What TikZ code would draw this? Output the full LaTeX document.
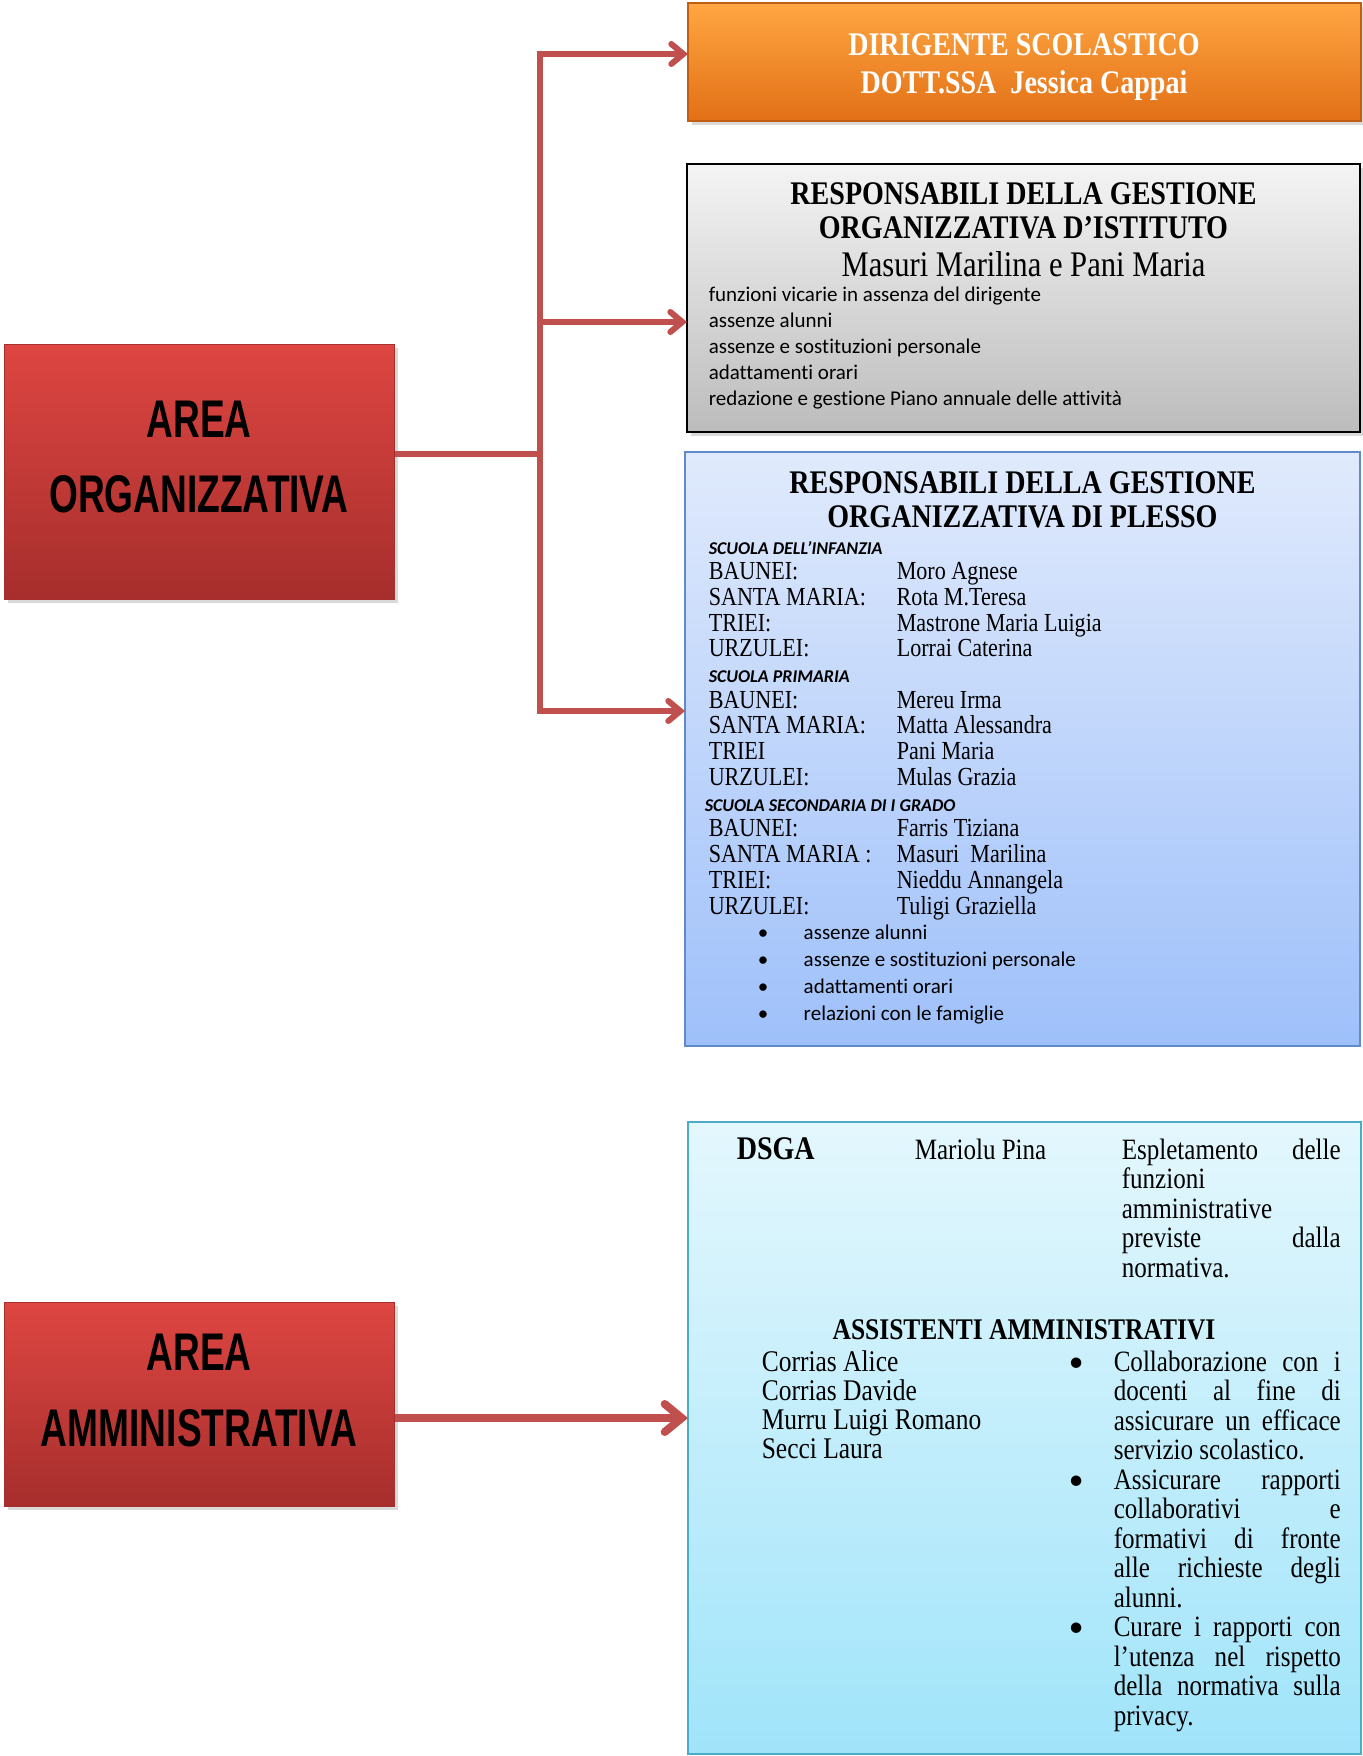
\documentclass[tikz,border=0pt]{standalone}
\usepackage{fontspec}
\setmainfont{Liberation Serif}[FakeStretch=0.85]
\newfontfamily\calibri{Carlito}[Ligatures=NoCommon]
\newfontfamily\areafont{Liberation Sans}[FakeStretch=0.7]
\usetikzlibrary{arrows.meta,shadows}

\definecolor{linkred}{RGB}{192,80,77}
\definecolor{orangetop}{RGB}{255,166,66}
\definecolor{orangebot}{RGB}{226,112,22}
\definecolor{redtop}{RGB}{222,70,66}
\definecolor{redbot}{RGB}{166,46,44}
\definecolor{graytop}{RGB}{244,244,244}
\definecolor{graybot}{RGB}{188,188,188}
\definecolor{bluetop}{RGB}{224,234,252}
\definecolor{bluebot}{RGB}{158,192,250}
\definecolor{blueline}{RGB}{96,138,200}
\definecolor{cyantop}{RGB}{228,247,253}
\definecolor{cyanbot}{RGB}{160,228,250}
\definecolor{cyanline}{RGB}{75,172,198}

\tikzset{every picture/.style={line width=0.75pt}}
\tikzset{
  boxshadow/.style={drop shadow={opacity=0.3,shadow xshift=2pt,shadow yshift=-2pt}},
  areabox/.style={rectangle,inner sep=0pt,top color=redtop,bottom color=redbot,draw=redbot,line width=0.5pt,boxshadow},
  headbox/.style={rectangle,inner sep=0pt,top color=orangetop,bottom color=orangebot,draw=orangebot!85!black,line width=0.6pt,boxshadow},
  greybox/.style={rectangle,inner sep=0pt,top color=graytop,bottom color=graybot,draw=black,line width=1pt,boxshadow},
  plessobox/.style={rectangle,inner sep=0pt,top color=bluetop,bottom color=bluebot,draw=blueline,line width=0.6pt},
  ammbox/.style={rectangle,inner sep=0pt,top color=cyantop,bottom color=cyanbot,draw=cyanline,line width=0.6pt},
  link/.style={draw=linkred,line width=3pt},
  linkarrow/.style={link,-{Straight Barb[length=6pt,width=10pt,line cap=round]}},
  biglinkarrow/.style={draw=linkred,line width=4pt,-{Straight Barb[length=8.5pt,width=14pt,line cap=round]}},
  areatext/.style={inner sep=0pt,font=\areafont\bfseries\fontsize{26.5}{37.5}\selectfont},
  titletext/.style={inner sep=0pt,font=\bfseries\fontsize{16.5}{17.25}\selectfont},
  listtext/.style={inner sep=0pt,font=\calibri\fontsize{10.5}{13.1}\selectfont},
  bodytext/.style={inner sep=0pt,font=\fontsize{14.75}{14.75}\selectfont}
}

\begin{document}
\begin{tikzpicture}[x=0.5pt,y=0.5pt,yscale=-1,xscale=1]
\useasboundingbox (0,0) rectangle (1363,1756);

%Shape: Rectangle [area organizzativa]
\node [areabox,minimum width=195pt,minimum height=127.5pt] (orgarea) at (199,471.5) {};
%Shape: Rectangle [area amministrativa]
\node [areabox,minimum width=195pt,minimum height=102pt] (ammarea) at (199,1404) {};
%Shape: Rectangle [dirigente]
\node [headbox,minimum width=336.5pt,minimum height=59pt] (dirigente) at (1024.5,62) {};
%Shape: Rectangle [istituto]
\node [greybox,minimum width=336.5pt,minimum height=134pt] (istituto) at (1023.5,298) {};
%Shape: Rectangle [plesso]
\node [plessobox,minimum width=337.5pt,minimum height=297pt] (plesso) at (1022.5,749) {};
%Shape: Rectangle [amministrativi]
\node [ammbox,minimum width=336.5pt,minimum height=316pt] (ammin) at (1024.5,1438) {};

%Straight Lines [connectors]
\coordinate (trunk) at (540,454);
\coordinate (tipA) at (688,54);
\coordinate (tipB) at (687,322);
\coordinate (tipC) at (685,711);
\coordinate (tipD) at (688,1418);
\draw [link] (orgarea.east |- trunk) -- (trunk);
\draw [linkarrow] (trunk) |- (tipA);
\draw [linkarrow] (trunk) |- (tipB);
\draw [linkarrow] (trunk) |- (tipC);
\draw [biglinkarrow] (ammarea.east |- tipD) -- (tipD);

% Text Node
\draw (199,437) node [anchor=base][areatext] (orglabel) {\begin{tabular}[t]{@{}c@{}}AREA\\ORGANIZZATIVA\end{tabular}};
% Text Node
\draw (199,1370) node [anchor=base][areatext,font=\areafont\bfseries\fontsize{26.5}{38}\selectfont] (ammlabel) {\begin{tabular}[t]{@{}c@{}}AREA\\AMMINISTRATIVA\end{tabular}};

% Text Node
\draw (1024,55) node [anchor=base][titletext,text=white,font=\bfseries\fontsize{16.5}{19}\selectfont] (dirlabel) {\begin{tabular}[t]{@{}c@{}}DIRIGENTE SCOLASTICO\\DOTT.SSA~ Jessica Cappai\end{tabular}};

% Text Node
\draw (1023.5,204) node [anchor=base][titletext] (istitle) {\begin{tabular}[t]{@{}c@{}}RESPONSABILI DELLA GESTIONE\\ORGANIZZATIVA D’ISTITUTO\end{tabular}};
% Text Node
\draw (1023.5,276) node [anchor=base][inner sep=0pt,font=\fontsize{18}{20}\selectfont] (isnames) {Masuri Marilina e Pani Maria};
% Text Node
\draw (708,301) node [anchor=base west][listtext] (islist) {\begin{tabular}[t]{@{}l@{}}
funzioni vicarie in assenza del dirigente\\
assenze alunni\\
assenze e sostituzioni personale\\
adattamenti orari\\
redazione e gestione Piano annuale delle attività
\end{tabular}};

% Text Node
\draw (1022.5,493) node [anchor=base][titletext] (pltitle) {\begin{tabular}[t]{@{}c@{}}RESPONSABILI DELLA GESTIONE\\ORGANIZZATIVA DI PLESSO\end{tabular}};
% Text Node
\draw (708,554) node [anchor=base west][inner sep=0pt,font=\fontsize{13}{12.85}\selectfont] (pltable) {\begin{tabular}[t]{@{}p{94pt}@{}l@{}}
\multicolumn{2}{@{}l@{}}{\calibri\bfseries\itshape\fontsize{9}{10}\selectfont SCUOLA DELL’INFANZIA}\\
BAUNEI: & Moro Agnese\\
SANTA MARIA: & Rota M.Teresa\\
TRIEI: & Mastrone Maria Luigia\\
URZULEI: & Lorrai Caterina\\
\multicolumn{2}{@{}l@{}}{\calibri\bfseries\itshape\fontsize{9}{10}\selectfont SCUOLA PRIMARIA}\\
BAUNEI: & Mereu Irma\\
SANTA MARIA: & Matta Alessandra\\
TRIEI & Pani Maria\\
URZULEI: & Mulas Grazia\\
\multicolumn{2}{@{}l@{}}{\hspace{-2pt}\calibri\bfseries\itshape\fontsize{9}{10}\selectfont SCUOLA SECONDARIA DI I GRADO}\\
BAUNEI: & Farris Tiziana\\
SANTA MARIA : & Masuri~ Marilina\\
TRIEI: & Nieddu Annangela\\
URZULEI: & Tuligi Graziella
\end{tabular}};
% Text Node
\draw (757,939) node [anchor=base west][listtext,font=\calibri\fontsize{10.5}{13.65}\selectfont] (plbullets) {\begin{tabular}[t]{@{}p{23pt}@{}l@{}}
\textbullet & assenze alunni\\
\textbullet & assenze e sostituzioni personale\\
\textbullet & adattamenti orari\\
\textbullet & relazioni con le famiglie
\end{tabular}};

% Text Node
\draw (736,1159) node [anchor=base west][inner sep=0pt,font=\bfseries\fontsize{16.5}{18}\selectfont] (dsga) {DSGA};
% Text Node
\draw (914,1159) node [anchor=base west][bodytext] (dsganame) {Mariolu Pina};
% Text Node
\draw (1121,1159) node [anchor=base west][bodytext] (dsgatask) {\parbox[t]{109.5pt}{Espletamento delle\linebreak funzioni\newline amministrative\newline previste dalla\linebreak normativa.}};
% Text Node
\draw (1024,1339) node [anchor=base][bodytext,font=\bfseries\fontsize{15}{15}\selectfont] (asstitle) {ASSISTENTI AMMINISTRATIVI};
% Text Node
\draw (761,1371) node [anchor=base west][bodytext,font=\fontsize{15}{14.5}\selectfont] (assnames) {\begin{tabular}[t]{@{}l@{}}
Corrias Alice\\
Corrias Davide\\
Murru Luigi Romano\\
Secci Laura
\end{tabular}};
% Text Node
\draw (1068,1371) node [anchor=base west][bodytext] (asstasks) {\begin{tabular}[t]{@{}p{22.5pt}@{}p{113.5pt}@{}}
{\calibri\textbullet} & Collaborazione con i\linebreak docenti al fine di\linebreak assicurare un efficace\linebreak servizio scolastico.\\
{\calibri\textbullet} & Assicurare rapporti\linebreak collaborativi e\linebreak formativi di fronte\linebreak alle richieste degli\linebreak alunni.\\
{\calibri\textbullet} & Curare i rapporti con\linebreak l’utenza nel rispetto\linebreak della normativa sulla\linebreak privacy.
\end{tabular}};

\end{tikzpicture}
\end{document}
